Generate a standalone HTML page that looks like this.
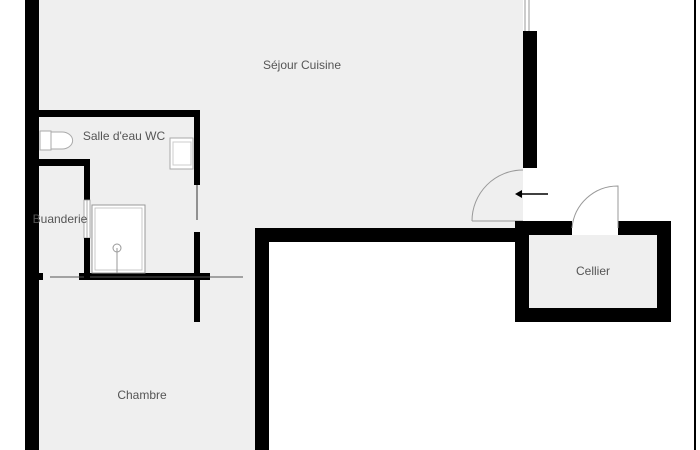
<!DOCTYPE html>
<html><head><meta charset="utf-8"><style>
html,body{margin:0;padding:0;background:#fff;}
svg{display:block;}
text{font-family:"Liberation Sans",sans-serif;font-size:12px;fill:#555;}
</style></head><body>
<svg width="700" height="450" viewBox="0 0 700 450" xmlns="http://www.w3.org/2000/svg">
<rect width="700" height="450" fill="#fff"/>
<!-- floors -->
<rect x="39" y="0" width="484" height="229" fill="#efefef"/>
<rect x="39" y="229" width="216" height="221" fill="#efefef"/>
<rect x="529" y="235" width="128" height="73" fill="#efefef"/>
<!-- right edge line -->
<rect x="694" y="0" width="2" height="450" fill="#000"/>
<!-- left outer wall -->
<rect x="25" y="0" width="14" height="450" fill="#000"/>
<!-- chambre right wall -->
<rect x="255" y="228" width="14" height="222" fill="#000"/>
<!-- sejour bottom wall -->
<rect x="255" y="228" width="268" height="14" fill="#000"/>
<!-- sejour right wall -->
<rect x="523" y="31" width="14" height="137" fill="#000"/>
<line x1="525" y1="0" x2="525" y2="31" stroke="#999" stroke-width="1"/>
<line x1="529" y1="0" x2="529" y2="31" stroke="#999" stroke-width="1"/>
<!-- entry door -->
<path d="M472 221 A51 51 0 0 1 523 170" fill="none" stroke="#999" stroke-width="1"/>
<line x1="472" y1="221" x2="523" y2="221" stroke="#999"/>
<line x1="548" y1="194" x2="518" y2="194" stroke="#000" stroke-width="1.5"/>
<path d="M515 194 L522 190 L522 198 Z" fill="#000"/>
<!-- cellier -->
<path d="M515 221 H572 V235 H529 V308 H657 V235 H618 V221 H671 V322 H515 Z" fill="#000"/>
<rect x="515" y="221" width="28" height="14" fill="#000"/>
<path d="M572 228 A46 46 0 0 1 618 186 V228" fill="none" stroke="#999" stroke-width="1"/>
<!-- salle d'eau walls -->
<rect x="39" y="110" width="161" height="7" fill="#000"/>
<rect x="194" y="110" width="6" height="75" fill="#000"/>
<line x1="197" y1="185" x2="197" y2="220" stroke="#333" stroke-width="1"/>
<rect x="194" y="232" width="6" height="90" fill="#000"/>
<rect x="79" y="273" width="131" height="7" fill="#000"/>
<line x1="50" y1="277" x2="243" y2="277" stroke="#555" stroke-width="1"/>
<rect x="39" y="273" width="4" height="7" fill="#000"/>
<!-- buanderie walls -->
<rect x="39" y="159" width="51" height="7" fill="#000"/>
<rect x="84" y="159" width="6" height="41" fill="#000"/>
<rect x="84" y="200" width="6" height="38" fill="#fff" stroke="#999" stroke-width="0.8"/>
<line x1="87" y1="200" x2="87" y2="238" stroke="#999" stroke-width="0.8"/>
<rect x="84" y="238" width="6" height="42" fill="#000"/>
<!-- shower -->
<rect x="92" y="205" width="53" height="68" fill="#fff" stroke="#999" stroke-width="1"/>
<rect x="95" y="208" width="47" height="62" fill="none" stroke="#bbb" stroke-width="0.8"/>
<circle cx="117" cy="248" r="4" fill="none" stroke="#999"/>
<line x1="117" y1="248" x2="117" y2="273" stroke="#999"/>
<!-- sink -->
<rect x="170" y="138" width="23" height="31" fill="#fff" stroke="#aaa"/>
<rect x="173" y="142" width="18" height="23" fill="none" stroke="#ccc"/>
<!-- toilet -->
<rect x="40" y="131" width="11" height="19" fill="#fff" stroke="#aaa"/>
<path d="M51 132 H62 A10 8 0 0 1 62 149 H51 Z" fill="#fff" stroke="#aaa"/>
<!-- labels -->
<text x="302" y="69" text-anchor="middle">Séjour Cuisine</text>
<text x="124" y="140" text-anchor="middle">Salle d'eau WC</text>
<text x="60" y="223" text-anchor="middle">Buanderie</text>
<text x="593" y="275" text-anchor="middle">Cellier</text>
<text x="142" y="399" text-anchor="middle">Chambre</text>
</svg>
</body></html>
